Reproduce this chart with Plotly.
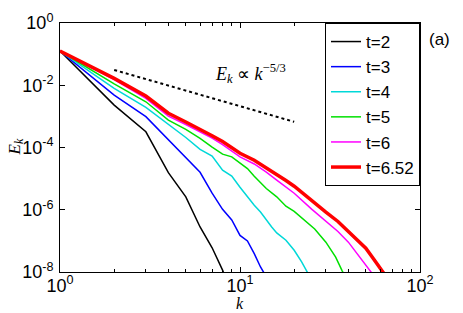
import plotly.graph_objects as go

# ---- data ----
k_t2 = [1, 2, 3, 4, 5, 6, 7, 8, 9]
E_t2 = [0.126, 2.3e-3, 3.2e-4, 1.55e-5, 2.6e-6, 2.8e-7, 6.0e-8, 1.15e-8, 2e-9]

k_t3 = [1, 2, 3, 4, 5, 6, 7, 8, 9, 10, 11, 12, 13, 14]
E_t3 = [0.126, 4.8e-3, 9.8e-4, 1.74e-4, 4.5e-5, 1.6e-5, 3.4e-6, 1.03e-6, 4.7e-7,
        1.5e-7, 1.0e-7, 3.9e-8, 1.45e-8, 7e-9]

k_t4 = [1, 2, 3, 4, 5, 6, 7, 8, 9, 10, 11, 12, 13, 14, 15, 16, 18, 20, 22, 24]
E_t4 = [0.126, 7.9e-3, 1.95e-3, 5.6e-4, 2.1e-4, 8.7e-5, 5.3e-5, 1.87e-5, 1.2e-5,
        5.3e-6, 2.6e-6, 1.4e-6, 8.5e-7, 4.7e-7, 2.8e-7, 1.8e-7, 1.05e-7, 5.0e-8,
        2.1e-8, 8.5e-9]

k_t5 = [1, 2, 3, 4, 5, 6, 7, 8, 9, 10, 11, 12, 13, 14, 16, 18, 20, 23, 26, 30, 34, 37, 38]
E_t5 = [0.126, 0.011, 2.95e-3, 7.6e-4, 3.8e-4, 1.96e-4, 1.03e-4, 6.1e-5, 5.0e-5,
        3.2e-5, 2.1e-5, 1.2e-5, 7.7e-6, 4.8e-6, 2.6e-6, 1.3e-6, 8.9e-7, 4.3e-7,
        2.4e-7, 9.1e-8, 3.0e-8, 1.07e-8, 8e-9]

k_t6 = [1, 2, 3, 4, 5, 6, 7, 8, 9, 10, 12, 14, 16, 18, 20, 25, 30, 35, 40, 45, 50, 54, 56]
E_t6 = [0.126, 0.0152, 3.8e-3, 1.02e-3, 5.5e-4, 3.2e-4, 2.0e-4, 1.23e-4, 7.9e-5,
        5.0e-5, 2.95e-5, 1.62e-5, 8.9e-6, 5.5e-6, 3.4e-6, 1.05e-6, 4.3e-7, 2.0e-7,
        9.1e-8, 3.7e-8, 1.8e-8, 1.0e-8, 7e-9]

k_t652 = [1, 2, 3, 4, 5, 6, 7, 8, 9, 10, 12, 14, 16, 18, 20, 25, 30, 35, 40, 45, 50,
          55, 60, 63, 65]
E_t652 = [0.126, 0.0166, 4.5e-3, 1.26e-3, 6.6e-4, 3.9e-4, 2.4e-4, 1.55e-4, 1.0e-4,
          6.5e-5, 3.9e-5, 2.25e-5, 1.38e-5, 8.7e-6, 5.7e-6, 1.9e-6, 8.4e-7, 4.2e-7,
          2.0e-7, 1.1e-7, 5.8e-8, 2.7e-8, 1.4e-8, 1.0e-8, 7e-9]

k_ref = [2, 20]
E_ref = [0.031, 6.7e-4]

x_tickvals = [1, 10, 100]
x_ticktext = ["10<sup>0</sup>", "10<sup>1</sup>", "10<sup>2</sup>"]
y_tickvals = [1, 1e-2, 1e-4, 1e-6, 1e-8]
y_ticktext = ["10<sup>0</sup>", "10<sup>-2</sup>", "10<sup>-4</sup>",
              "10<sup>-6</sup>", "10<sup>-8</sup>"]
x_minor = [2, 3, 4, 5, 6, 7, 8, 9, 20, 30, 40, 50, 60, 70, 80, 90]

labels = ["t=2", "t=3", "t=4", "t=5", "t=6", "t=6.52"]
colors = ["#000000", "#0000ff", "#00d8d8", "#00e000", "#ff00ff", "#ff0000"]
widths = [1.5, 1.5, 1.5, 1.5, 1.5, 3.5]
series = [(k_t2, E_t2), (k_t3, E_t3), (k_t4, E_t4), (k_t5, E_t5), (k_t6, E_t6),
          (k_t652, E_t652)]

SANS = "Liberation Sans, Arial, Helvetica, sans-serif"
SERIF = "Liberation Serif, Times New Roman, serif"

fig = go.Figure()
for (kx, ey), lab, col, w in zip(series, labels, colors, widths):
    fig.add_trace(go.Scatter(x=kx, y=ey, mode="lines", name=lab,
                             line=dict(color=col, width=w)))

fig.add_trace(go.Scatter(x=k_ref, y=E_ref, mode="lines", showlegend=False,
                         line=dict(color="black", width=2, dash="3px,3px")))

fig.add_annotation(x=1.056, y=-1.61, xref="x", yref="y",
                   text="<i>E</i><sub><i>k</i></sub> ∝ <i>k</i><sup>−5/3</sup>",
                   showarrow=False, xanchor="center", yanchor="middle",
                   font=dict(family=SERIF, size=18, color="black"))
fig.add_annotation(x=1.055, y=0.935, xref="paper", yref="paper", text="(a)",
                   showarrow=False, xanchor="center", yanchor="middle",
                   font=dict(family=SANS, size=17, color="black"))
# axis titles
fig.add_annotation(x=0.5, y=-0.1647, xref="paper", yref="paper", text="<i>k</i>",
                   showarrow=False, xanchor="center", yanchor="bottom", borderpad=0,
                   font=dict(family=SERIF, size=16, color="black"))
fig.add_annotation(x=-0.125, y=0.5, xref="paper", yref="paper",
                   text="<i>E</i><sub><i>k</i></sub>", textangle=-90,
                   showarrow=False, xanchor="center", yanchor="middle",
                   font=dict(family=SERIF, size=17, color="black"))

fig.update_layout(
    width=463, height=313,
    margin=dict(l=60, r=43, t=23, b=41, autoexpand=False),
    paper_bgcolor="white", plot_bgcolor="white",
    showlegend=True,
    legend=dict(x=1, y=1, xanchor="right", yanchor="top",
                bgcolor="white", bordercolor="black", borderwidth=1,
                font=dict(family=SANS, size=17, color="black"),
                tracegroupgap=0),
    font=dict(family=SANS, size=18, color="black"),
)

fig.update_xaxes(type="log", range=[0, 2], tickmode="array",
                 tickvals=x_tickvals, ticktext=x_ticktext, automargin=False,
                 showgrid=False, zeroline=False, showline=True, linecolor="black",
                 linewidth=1, mirror="ticks", ticks="inside", ticklen=5,
                 tickcolor="black", ticklabelstandoff=-3,
                 minor=dict(ticks="inside", ticklen=3, tickcolor="black",
                            tickvals=x_minor, showgrid=False),
                 tickfont=dict(family=SANS, size=18))
fig.update_yaxes(type="log", range=[-8, 0], tickmode="array",
                 tickvals=y_tickvals, ticktext=y_ticktext, automargin=False,
                 showgrid=False, zeroline=False, showline=True, linecolor="black",
                 linewidth=1, mirror="ticks", ticks="inside", ticklen=5,
                 tickcolor="black", ticklabelstandoff=2,
                 tickfont=dict(family=SANS, size=18))

fig.write_html("out.html", config={"displayModeBar": False},
               post_script="document.body.style.margin='0';")
